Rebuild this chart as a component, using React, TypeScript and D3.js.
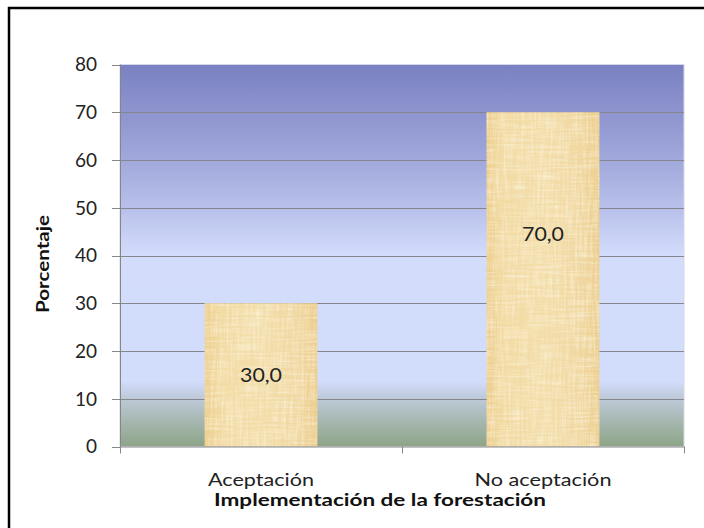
import React from "react";
import * as d3 from "d3";

// Survey result: acceptance of the afforestation plan (percent of respondents)
const categories: string[] = ["Aceptación", "No aceptación"];
const percentages: number[] = [30.0, 70.0];
const valueLabels: string[] = ["30,0", "70,0"];
// Height (in percent units) at which each value label sits inside its bar
const labelLevels: number[] = [15, 44.4];
const yTicks: number[] = [0, 10, 20, 30, 40, 50, 60, 70, 80];

const yTitle = "Porcentaje";
const xTitle = "Implementación de la forestación";

const W = 704;
const H = 528;
const plot = { left: 120, right: 684, top: 64.5, bottom: 446.5 };
const FONT = "Lato, 'Open Sans', sans-serif";

export default function App() {
  const x = d3
    .scaleBand<string>()
    .domain(categories)
    .range([plot.left, plot.right])
    .paddingInner(0.6)
    .paddingOuter(0.3);
  const y = d3.scaleLinear().domain([0, 80]).range([plot.bottom, plot.top]);

  const step = x.step();
  const boundaryTicks = d3.range(categories.length + 1).map((i) => plot.left + i * step);
  const grid = yTicks.filter((t) => t > 0 && t < 80);

  const labelWidths = [106, 137];

  return (
    <svg
      width={W}
      height={H}
      viewBox={`0 0 ${W} ${H}`}
      style={{ position: "absolute", left: 0, top: 0, background: "#fff" }}
    >
      <defs>
        <linearGradient id="plotBg" x1="0" y1="0" x2="0" y2="1">
          <stop offset="0" stopColor="#7a81c2" />
          <stop offset="0.25" stopColor="#a1a8db" />
          <stop offset="0.375" stopColor="#b8c0ea" />
          <stop offset="0.5" stopColor="#d3dcfb" />
          <stop offset="0.83" stopColor="#d2dcfb" />
          <stop offset="0.875" stopColor="#bdc9d7" />
          <stop offset="1" stopColor="#8da487" />
        </linearGradient>
        <linearGradient id="barShade" x1="0" y1="0" x2="1" y2="0">
          <stop offset="0" stopColor="#edcf8f" />
          <stop offset="0.15" stopColor="#f2dba4" />
          <stop offset="0.5" stopColor="#f3deaa" />
          <stop offset="0.85" stopColor="#f0d7a0" />
          <stop offset="1" stopColor="#ecce8e" />
        </linearGradient>
        <filter id="fiber" x="0" y="0" width="1" height="1">
          <feTurbulence type="fractalNoise" baseFrequency="0.03 0.45" numOctaves="2" seed="4" result="v" />
          <feTurbulence type="fractalNoise" baseFrequency="0.45 0.03" numOctaves="2" seed="9" result="h" />
          <feComposite in="v" in2="h" operator="arithmetic" k2="0.5" k3="0.5" result="mix" />
          <feColorMatrix
            in="mix"
            type="matrix"
            values="0 0 0 0 1  0 0 0 0 0.96  0 0 0 0 0.84  2.4 0 0 0 -1.0"
            result="light"
          />
          <feComposite in="light" in2="SourceAlpha" operator="in" />
        </filter>
        <filter id="fiberDark" x="0" y="0" width="1" height="1">
          <feTurbulence type="fractalNoise" baseFrequency="0.02 0.3" numOctaves="3" seed="12" result="v" />
          <feColorMatrix
            in="v"
            type="matrix"
            values="0 0 0 0 0.85  0 0 0 0 0.7  0 0 0 0 0.45  -2.0 0 0 0 1.05"
            result="dark"
          />
          <feComposite in="dark" in2="SourceAlpha" operator="in" />
        </filter>
      </defs>

      {/* chart frame */}
      <rect x={9} y={8} width={900} height={700} fill="none" stroke="#000" strokeWidth={2.5} />

      {/* plot background */}
      <rect
        x={plot.left}
        y={plot.top}
        width={plot.right - plot.left}
        height={plot.bottom - plot.top}
        fill="url(#plotBg)"
        stroke="#d4d8e4"
        strokeWidth={1}
      />

      {/* horizontal gridlines */}
      {grid.map((t) => (
        <line
          key={t}
          x1={plot.left}
          x2={plot.right}
          y1={Math.round(y(t)) + 0.5}
          y2={Math.round(y(t)) + 0.5}
          stroke="#86868e"
          strokeWidth={1}
        />
      ))}

      {/* bars */}
      {categories.map((c, i) => {
        const bx = x(c) as number;
        const by = y(percentages[i]);
        const bh = y(0) - by;
        return (
          <g key={c}>
            <rect x={bx} y={by} width={x.bandwidth()} height={bh} fill="url(#barShade)" />
            <rect x={bx} y={by} width={x.bandwidth()} height={bh} fill="#000" filter="url(#fiberDark)" opacity={0.35} />
            <rect x={bx} y={by} width={x.bandwidth()} height={bh} fill="#000" filter="url(#fiber)" opacity={0.7} />
          </g>
        );
      })}

      {/* value labels */}
      {categories.map((c, i) => (
        <text
          key={c}
          x={(x(c) as number) + x.bandwidth() / 2}
          y={y(labelLevels[i])}
          dy="0.36em"
          textAnchor="middle"
          fontFamily={FONT}
          fontSize={19}
          fill="#222"
          textLength={42}
          lengthAdjust="spacingAndGlyphs"
        >
          {valueLabels[i]}
        </text>
      ))}

      {/* y axis */}
      <line x1={plot.left + 0.5} x2={plot.left + 0.5} y1={plot.top} y2={plot.bottom} stroke="#868686" />
      {yTicks.map((t) => (
        <g key={t}>
          <line
            x1={plot.left - 8}
            x2={plot.left}
            y1={Math.round(y(t)) + 0.5}
            y2={Math.round(y(t)) + 0.5}
            stroke="#868686"
          />
          <text
            x={97}
            y={y(t)}
            dy="0.36em"
            textAnchor="end"
            fontFamily={FONT}
            fontSize={19}
            fill="#222"
          >
            {t}
          </text>
        </g>
      ))}

      {/* x axis */}
      <line x1={plot.left} x2={plot.right} y1={plot.bottom + 0.5} y2={plot.bottom + 0.5} stroke="#868686" />
      {boundaryTicks.map((bx, i) => (
        <line key={i} x1={bx + 0.5} x2={bx + 0.5} y1={plot.bottom} y2={plot.bottom + 7} stroke="#868686" />
      ))}
      {categories.map((c, i) => (
        <text
          key={c}
          x={(x(c) as number) + x.bandwidth() / 2}
          y={486}
          textAnchor="middle"
          fontFamily={FONT}
          fontSize={16.5}
          fill="#222"
          textLength={labelWidths[i]}
          lengthAdjust="spacingAndGlyphs"
        >
          {c}
        </text>
      ))}

      {/* axis titles */}
      <text
        x={380}
        y={506}
        textAnchor="middle"
        fontFamily={FONT}
        fontWeight="bold"
        fontSize={16.5}
        fill="#111"
        textLength={332}
        lengthAdjust="spacingAndGlyphs"
      >
        {xTitle}
      </text>
      <text
        transform={`translate(49, 264) rotate(-90)`}
        textAnchor="middle"
        fontFamily={FONT}
        fontWeight="bold"
        fontSize={16.5}
        fill="#111"
        textLength={98}
        lengthAdjust="spacingAndGlyphs"
      >
        {yTitle}
      </text>
    </svg>
  );
}
